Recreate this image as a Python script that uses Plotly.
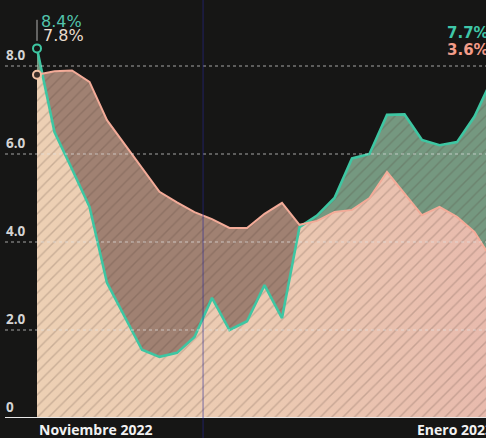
import plotly.graph_objects as go

# ---- data ----
dias = list(range(27))  # observation index (Nov 2022 -> Jan 2023)
serie_verde = [8.4, 6.5, 5.66, 4.8, 3.07, 2.3, 1.55, 1.39, 1.48, 1.84, 2.73, 2.0, 2.2,
               3.02, 2.27, 4.34, 4.6, 5.0, 5.9, 6.0, 6.89, 6.9, 6.32, 6.2, 6.27, 6.85, 7.7]
serie_rosa = [7.8, 7.88, 7.9, 7.64, 6.77, 6.23, 5.7, 5.14, 4.9, 4.68, 4.52, 4.32, 4.32,
              4.64, 4.89, 4.39, 4.48, 4.68, 4.73, 5.0, 5.59, 5.11, 4.61, 4.8, 4.57, 4.23, 3.6]
y_ticks = [0, 2, 4, 6, 8]
y_tick_text = ["0", "2.0", "4.0", "6.0", "8.0"]
x_labels = ["Noviembre 2022", "Enero 2023"]
x_label_pos = [0, 21.6]
fin_verde = "7.7%"
fin_rosa = "3.6%"
ini_verde = "8.4%"
ini_rosa = "7.8%"

GREEN = "#3ec6a2"
PINK = "#f3ab98"
BG = "#161615"


def augment(x, a, b):
    """Add crossing points so min/max areas can be filled exactly."""
    xs, A, B = [], [], []
    for i in range(len(x)):
        xs.append(x[i]); A.append(a[i]); B.append(b[i])
        if i < len(x) - 1:
            d0 = a[i] - b[i]
            d1 = a[i + 1] - b[i + 1]
            if d0 * d1 < 0:
                t = d0 / (d0 - d1)
                xc = x[i] + t * (x[i + 1] - x[i])
                yc = a[i] + t * (a[i + 1] - a[i])
                xs.append(xc); A.append(yc); B.append(yc)
    return xs, A, B


xa, ga, pa = augment(dias, serie_verde, serie_rosa)
mn = [min(g, p) for g, p in zip(ga, pa)]
mx = [max(g, p) for g, p in zip(ga, pa)]

fig = go.Figure()
# base area below both curves
fig.add_trace(go.Scatter(
    x=xa, y=mn, mode="lines", line=dict(width=0), fill="tozeroy",
    fillgradient=dict(type="horizontal",
                      colorscale=[[0, "#edd0b4"], [0.5, "#eccab2"], [1, "#e8baad"]]),
    hoverinfo="skip", showlegend=False))
# green above pink
fig.add_trace(go.Scatter(
    x=xa, y=ga, mode="lines", line=dict(width=0), fill="tonexty",
    fillcolor="#759880", hoverinfo="skip", showlegend=False))
fig.add_trace(go.Scatter(
    x=xa, y=mn, mode="lines", line=dict(width=0), hoverinfo="skip", showlegend=False))
# pink above green
fig.add_trace(go.Scatter(
    x=xa, y=pa, mode="lines", line=dict(width=0), fill="tonexty",
    fillcolor="#a08172", hoverinfo="skip", showlegend=False))
# hatch overlay
fig.add_trace(go.Scatter(
    x=xa, y=mx, mode="lines", line=dict(width=0), fill="tozeroy",
    fillcolor="rgba(0,0,0,0)",
    fillpattern=dict(shape="/", fgcolor="rgba(75,55,45,0.45)", bgcolor="rgba(0,0,0,0)",
                     size=8, solidity=0.18),
    hoverinfo="skip", showlegend=False))
# lines
fig.add_trace(go.Scatter(x=dias, y=serie_verde, mode="lines",
                         line=dict(color=GREEN, width=2.6), showlegend=False))
fig.add_trace(go.Scatter(x=dias, y=serie_rosa, mode="lines",
                         line=dict(color=PINK, width=2), showlegend=False))
# start markers
fig.add_trace(go.Scatter(x=[dias[0]], y=[serie_verde[0]], mode="markers", cliponaxis=False,
                         marker=dict(size=8, color=BG, line=dict(color=GREEN, width=2)),
                         showlegend=False))
fig.add_trace(go.Scatter(x=[dias[0]], y=[serie_rosa[0]], mode="markers", cliponaxis=False,
                         marker=dict(size=8, color="#3a2e28", line=dict(color="#f2c2a4", width=2)),
                         showlegend=False))

shapes = []
for v in y_ticks[1:]:
    shapes.append(dict(type="line", xref="paper", yref="y", x0=-31 / 450, x1=1, y0=v, y1=v,
                       line=dict(color="rgba(225,225,225,0.7)", width=1, dash="dot"),
                       layer="above"))
shapes.append(dict(type="line", xref="paper", yref="y", x0=-31 / 450, x1=1, y0=0, y1=0,
                   line=dict(color="#e8e8e8", width=2), layer="above"))
# leader line above start
shapes.append(dict(type="line", xref="x", yref="y", x0=0, x1=0, y0=8.57, y1=9.05,
                   line=dict(color="#b0b0b0", width=1), layer="above"))
# faint blue vertical mark
shapes.append(dict(type="line", xref="x", yref="paper", x0=9.49, x1=9.49, y0=-0.05, y1=1,
                   line=dict(color="rgba(40,40,150,0.4)", width=1.5), layer="above"))

ann = []
for v, t in zip(y_ticks, y_tick_text):
    ann.append(dict(xref="paper", yref="y", x=-32 / 450, y=v, xanchor="left", yanchor="bottom",
                    yshift=0, text="<b>" + t + "</b>", showarrow=False,
                    font=dict(family="Open Sans", size=13.5, color="#d4d4d4")))
for p, t in zip(x_label_pos, x_labels):
    ann.append(dict(xref="x", yref="paper", x=p, y=0, xanchor="left", yanchor="top",
                    yshift=0, text="<b>" + t + "</b>", showarrow=False,
                    font=dict(family="Open Sans", size=14, color="#f2f2f2")))
ann.append(dict(xref="x", yref="y", x=0.12, y=9.02, xanchor="left", yanchor="middle",
                text=ini_verde, showarrow=False,
                font=dict(family="DejaVu Sans", size=16, color="#52c4ac")))
ann.append(dict(xref="x", yref="y", x=0.2, y=8.7, xanchor="left", yanchor="middle",
                text=ini_rosa, showarrow=False,
                font=dict(family="DejaVu Sans", size=16, color="#eadccd")))
ann.append(dict(xref="x", yref="y", x=23.3, y=8.74, xanchor="left", yanchor="middle",
                text="<b>" + fin_verde + "</b>", showarrow=False,
                font=dict(family="DejaVu Sans", size=15, color="#3fc7a8")))
ann.append(dict(xref="x", yref="y", x=23.3, y=8.37, xanchor="left", yanchor="middle",
                text="<b>" + fin_rosa + "</b>", showarrow=False,
                font=dict(family="DejaVu Sans", size=15, color="#f39c88")))

fig.update_layout(
    width=486, height=438,
    margin=dict(l=36, r=0, t=0, b=20),
    paper_bgcolor=BG, plot_bgcolor=BG,
    xaxis=dict(range=[-1 / 17.5, 449 / 17.5], showgrid=False, zeroline=False,
               showticklabels=False, ticks=""),
    yaxis=dict(range=[0, 9.5], showgrid=False, zeroline=False, showticklabels=False, ticks=""),
    shapes=shapes, annotations=ann, showlegend=False,
)

fig.write_html("out.html", config={"displayModeBar": False})

# remove the default browser body margin so the chart fills the window exactly
with open("out.html", "r", encoding="utf-8") as f:
    html = f.read()
html = html.replace("<head>", "<head><style>html,body{margin:0;padding:0;overflow:hidden;background:#161615;}</style>", 1)
with open("out.html", "w", encoding="utf-8") as f:
    f.write(html)
